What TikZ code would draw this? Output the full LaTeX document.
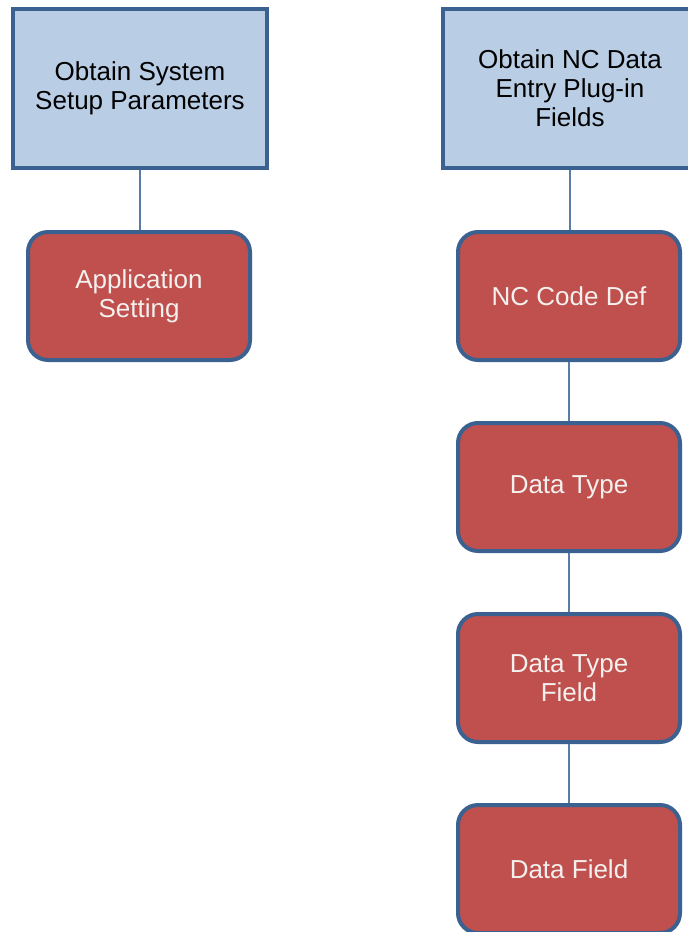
\documentclass[tikz,border=0pt]{standalone}
\usepackage{fontspec}
\setmainfont{Liberation Sans}
\definecolor{bluefill}{HTML}{B9CDE5}
\definecolor{boxedge}{HTML}{3B6191}
\definecolor{redfill}{HTML}{C0504D}
\definecolor{linkcol}{HTML}{5A7DA8}
\definecolor{lighttext}{HTML}{F4F0EE}
\tikzset{
  headbox/.style={draw=boxedge, fill=bluefill, line width=4pt, minimum width=254pt, minimum height=159pt, inner sep=0pt, align=center, text=black, font=\fontsize{26}{29}\selectfont},
  itembox/.style={draw=boxedge, fill=redfill, line width=4pt, rounded corners=20pt, minimum width=222pt, minimum height=128pt, inner sep=0pt, align=center, text=lighttext, font=\fontsize{26}{29}\selectfont},
  link/.style={draw=linkcol, line width=2pt}
}
\begin{document}
\begin{tikzpicture}[x=1pt,y=-1pt]
\useasboundingbox (0,0) rectangle (688,932);
\clip (0,0) rectangle (688,932);
\node[headbox] (sys) at (140,88.5) {Obtain System\\Setup Parameters};
\node[itembox] (app) at (139,296) {Application\\Setting};
\node[headbox] (nc) at (570,88.5) {Obtain NC Data\\Entry Plug-in\\Fields};
\node[itembox] (code) at (569,296) {NC Code Def};
\node[itembox] (dtype) at (569,487) {Data Type};
\node[itembox] (dtf) at (569,678) {Data Type\\Field};
\node[itembox] (df) at (569,869) {Data Field};
\draw[link] (sys.south) -- (sys.south |- app.north);
\draw[link] (nc.south) -- (nc.south |- code.north);
\draw[link] (code.south) -- (dtype.north);
\draw[link] (dtype.south) -- (dtf.north);
\draw[link] (dtf.south) -- (df.north);
\end{tikzpicture}
\end{document}
